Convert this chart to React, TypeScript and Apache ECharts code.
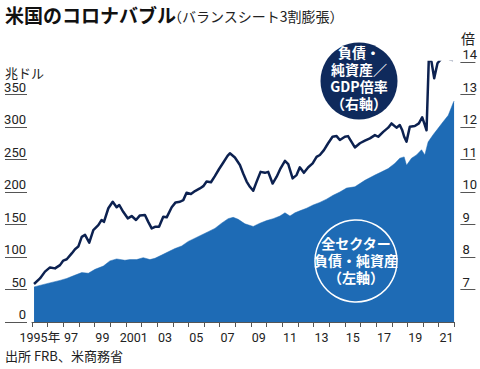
import React, { useEffect, useRef } from "react";
import * as echarts from "echarts";

const yearCategories = [
  "1995年", "96", "97", "98", "99", "2000", "2001", "02", "03", "04", "05", "06", "07", "08",
  "09", "10", "11", "12", "13", "14", "15", "16", "17", "18", "19", "20", "21",
];
const xTickLabels = [
  "1995年", "", "97", "", "99", "", "2001", "", "03", "", "05", "", "07", "",
  "09", "", "11", "", "13", "", "15", "", "17", "", "19", "", "21",
];

// Ratio of liabilities + net worth to GDP (right axis, times)
const ratioTimes = [
  1995.13, 1995.51, 1995.83, 1996.15, 1996.47, 1996.79, 1997.0, 1997.22, 1997.54, 1997.75,
  1997.96, 1998.18, 1998.39, 1998.66, 1998.92, 1999.24, 1999.45, 1999.6, 1999.88, 2000.16,
  2000.41, 2000.58, 2000.83, 2001.12, 2001.37, 2001.65, 2001.9, 2002.22, 2002.43, 2002.65,
  2002.86, 2003.12, 2003.39, 2003.61, 2003.93, 2004.18, 2004.46, 2004.67, 2004.88, 2005.16,
  2005.42, 2005.73, 2005.95, 2006.16, 2006.44, 2006.69, 2006.95, 2007.22, 2007.5, 2007.65,
  2007.97, 2008.29, 2008.5, 2008.72, 2008.93, 2009.14, 2009.36, 2009.61, 2009.89, 2010.1,
  2010.38, 2010.64, 2010.89, 2011.17, 2011.38, 2011.66, 2011.91, 2012.12, 2012.38, 2012.66,
  2012.94, 2013.19, 2013.4, 2013.66, 2013.93, 2014.21, 2014.47, 2014.68, 2015.0, 2015.2,
  2015.64, 2015.96, 2016.28, 2016.6, 2016.92, 2017.13, 2017.45, 2017.77, 2017.98, 2018.3,
  2018.51, 2018.66, 2018.79, 2018.94, 2019.15, 2019.47, 2019.73, 2019.94, 2020.07, 2020.22,
  2020.37, 2020.54, 2020.71, 2020.92, 2021.18, 2021.43, 2021.71, 2021.92,
];
const ratioValues = [
  7.17, 7.34, 7.55, 7.68, 7.65, 7.75, 7.89, 7.93, 8.11, 8.24,
  8.32, 8.62, 8.68, 8.44, 8.83, 8.98, 9.14, 9.08, 9.5, 9.7,
  9.53, 9.6, 9.39, 9.19, 9.26, 9.14, 9.28, 9.29, 9.08, 8.88,
  8.93, 8.93, 9.24, 9.22, 9.53, 9.68, 9.7, 9.75, 9.98, 9.94,
  10.03, 10.11, 10.18, 10.32, 10.3, 10.49, 10.7, 10.9, 11.11, 11.19,
  11.06, 10.83, 10.57, 10.32, 10.16, 10.04, 10.32, 10.62, 10.59, 10.62,
  10.26, 10.47, 10.73, 10.96, 10.86, 10.42, 10.52, 10.76, 10.59, 10.76,
  10.88, 11.08, 11.14, 11.29, 11.5, 11.7, 11.72, 11.6, 11.7, 11.72,
  11.37, 11.5, 11.58, 11.65, 11.75, 11.7, 11.85, 11.98, 12.11, 11.98,
  12.06, 11.91, 11.7, 11.55, 12.01, 12.03, 12.11, 12.3, 12.12, 11.9,
  14.17, 14.0, 13.5, 13.96, 14.11, 14.2, 14.08, 14.06,
];

// All-sector liabilities + net worth (left axis, trillion dollars)
const balanceTimes = [
  1995.13, 1995.94, 1996.79, 1997.22, 1997.64, 1998.18, 1998.6, 1999.03, 1999.56, 1999.98,
  2000.41, 2000.94, 2001.26, 2001.69, 2002.11, 2002.54, 2002.86, 2003.29, 2003.71, 2004.14,
  2004.57, 2004.99, 2005.42, 2005.84, 2006.27, 2006.69, 2007.12, 2007.54, 2007.86, 2008.18,
  2008.61, 2009.14, 2009.57, 2010.0, 2010.42, 2010.85, 2011.17, 2011.49, 2011.81, 2012.12,
  2012.55, 2012.97, 2013.4, 2013.83, 2014.25, 2014.68, 2015.11, 2015.64, 2016.28, 2016.92,
  2017.35, 2017.77, 2018.19, 2018.51, 2018.79, 2018.94, 2019.26, 2019.58, 2019.9, 2020.11,
  2020.32, 2020.64, 2020.96, 2021.28, 2021.61, 2021.92, 2021.98,
];
const balanceValues = [
  54, 59, 64, 67, 71, 76, 75, 81, 86, 94,
  97, 95, 96, 96, 99, 96, 98, 103, 108, 113,
  117, 124, 129, 134, 139, 144, 152, 159, 161, 158,
  151, 147, 152, 156, 159, 163, 168, 163, 168, 171,
  175, 180, 184, 189, 195, 200, 206, 208, 218, 226,
  231, 236, 244, 252, 254, 241, 252, 257, 265, 257,
  277, 288, 298, 308, 318, 337, 340,
];

const leftTicks = [0, 50, 100, 150, 200, 250, 300, 350];
const rightTicks = [7, 8, 9, 10, 11, 12, 13, 14];

const ratioBadgeLines = ["負債・", "純資産／", "GDP倍率", "（右軸）"];
const balanceBadgeLines = ["全セクター", "負債・純資産", "（左軸）"];

const NUM_FONT = "Roboto, 'Noto Sans CJK JP', sans-serif";
const JP_FONT = "'Noto Sans CJK JP', 'Noto Sans', sans-serif";

export default function App() {
  const ref = useRef<HTMLDivElement>(null);

  useEffect(() => {
    if (!ref.current) return;
    const chart = echarts.init(ref.current, null, { renderer: "svg" });

    const badgeText = (lines: string[], cx: number, firstY: number, step: number) =>
      lines.map((t, i) => ({
        type: "text",
        x: cx,
        y: firstY + i * step,
        z: 11,
        style: {
          text: t,
          font: `bold 14px ${JP_FONT}`,
          lineHeight: 14,
          fill: "#ffffff",
          textAlign: "center",
          textVerticalAlign: "middle",
        },
      }));

    const option: any = {
      animation: false,
      backgroundColor: "#ffffff",
      grid: { left: 32, right: 25, top: 62, bottom: 47 },
      xAxis: [
        {
          type: "category",
          data: yearCategories,
          boundaryGap: true,
          axisLine: { show: true, lineStyle: { color: "#555", width: 1 } },
          axisTick: { show: true, interval: 0, length: 5, lineStyle: { color: "#555" } },
          axisLabel: {
            interval: 0,
            margin: 9,
            fontSize: 12.5,
            fontFamily: NUM_FONT,
            color: "#222",
            formatter: (_v: string, i: number) => xTickLabels[i],
          },
          splitLine: { show: false },
        },
        {
          type: "value",
          min: 1995,
          max: 2022,
          show: false,
        },
      ],
      yAxis: [
        {
          type: "value",
          position: "left",
          min: 0,
          max: 400,
          interval: 50,
          offset: 5,
          axisLine: { show: false },
          axisTick: {
            show: true,
            length: 22,
            customValues: leftTicks,
            lineStyle: { color: "#555" },
          },
          axisLabel: {
            customValues: leftTicks,
            align: "right",
            verticalAlign: "bottom",
            margin: 1,
            padding: [0, 0, 1, 0],
            fontSize: 13,
            fontFamily: NUM_FONT,
            color: "#222",
          },
          splitLine: { show: false },
        },
        {
          type: "value",
          position: "right",
          min: 6,
          max: 14,
          interval: 1,
          offset: 6,
          axisLine: { show: false },
          axisTick: {
            show: true,
            length: 15,
            customValues: rightTicks,
            lineStyle: { color: "#555" },
          },
          axisLabel: {
            customValues: rightTicks,
            align: "left",
            verticalAlign: "bottom",
            margin: 2,
            padding: [0, 0, 1, 0],
            fontSize: 13,
            fontFamily: NUM_FONT,
            color: "#222",
          },
          splitLine: { show: false },
        },
      ],
      series: [
        {
          name: "全セクター負債・純資産",
          type: "line",
          xAxisIndex: 1,
          yAxisIndex: 0,
          data: balanceTimes.map((t, i) => [t, balanceValues[i]]),
          showSymbol: false,
          lineStyle: { width: 0.5, color: "#1e6bb5" },
          areaStyle: { color: "#1e6bb5", opacity: 1 },
          z: 2,
        },
        {
          name: "負債・純資産／GDP倍率",
          type: "line",
          xAxisIndex: 1,
          yAxisIndex: 1,
          data: ratioTimes.map((t, i) => [t, ratioValues[i]]),
          showSymbol: false,
          lineStyle: { width: 2.5, color: "#0c2150", join: "round" },
          z: 3,
        },
      ],
      graphic: [
        {
          type: "text",
          left: 5,
          top: 5,
          style: {
            text: "米国のコロナバブル",
            font: `bold 19px ${JP_FONT}`,
            fill: "#111",
          },
        },
        {
          type: "text",
          left: 168,
          top: 9,
          style: {
            text: "（バランスシート3割膨張）",
            font: `14px ${JP_FONT}`,
            fill: "#222",
          },
        },
        {
          type: "text",
          x: 5,
          y: 72,
          style: {
            text: "兆ドル",
            font: `13px ${JP_FONT}`,
            fill: "#222",
            textVerticalAlign: "middle",
          },
        },
        {
          type: "text",
          x: 461,
          y: 38,
          style: {
            text: "倍",
            font: `14px ${JP_FONT}`,
            fill: "#222",
            textVerticalAlign: "middle",
          },
        },
        {
          type: "text",
          x: 5,
          y: 355,
          style: {
            text: "出所 FRB、米商務省",
            font: `13px ${JP_FONT}`,
            fill: "#222",
            textVerticalAlign: "middle",
          },
        },
        {
          type: "circle",
          shape: { cx: 359, cy: 81, r: 38.5 },
          style: { fill: "#0f2a5c" },
          z: 10,
        },
        ...badgeText(ratioBadgeLines, 359, 52, 17),
        {
          type: "circle",
          shape: { cx: 356, cy: 261, r: 41 },
          style: { fill: "none", stroke: "#ffffff", lineWidth: 1.5 },
          z: 10,
        },
        ...badgeText(balanceBadgeLines, 356, 243, 17),
      ],
    };

    chart.setOption(option);
    return () => chart.dispose();
  }, []);

  return (
    <div
      ref={ref}
      style={{ position: "absolute", left: 0, top: 0, width: 480, height: 369 }}
    />
  );
}
